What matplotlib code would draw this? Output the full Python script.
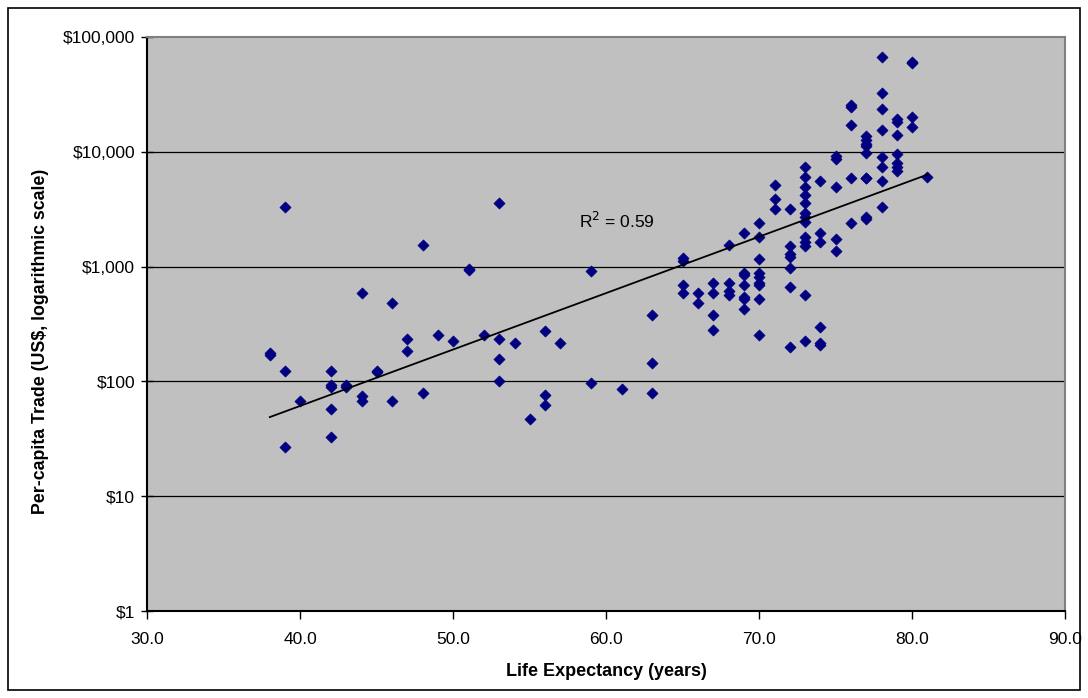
import matplotlib
matplotlib.use('Agg')
import matplotlib.pyplot as plt
from matplotlib.patches import Rectangle
import numpy as np

plt.rcParams['font.family'] = ['Liberation Sans', 'DejaVu Sans']

# life expectancy (years) and per-capita trade (US$), one entry per country
life_exp = (
    [38] * 2 + [39] * 3 + [40] + [42] * 5 + [43] * 2 + [44] * 3 + [45] * 2
    + [46] * 2 + [47] * 2 + [48] * 2 + [49] + [50] + [51] * 2 + [52]
    + [53] * 4 + [54] + [55] + [56] * 3 + [57] + [59] * 2 + [61] + [63] * 3
    + [65] * 4 + [66] * 2 + [67] * 4 + [68] * 4 + [69] * 7 + [70] * 9
    + [71] * 3 + [72] * 7 + [73] * 13 + [74] * 6 + [75] * 5 + [76] * 5
    + [77] * 9 + [78] * 8 + [79] * 7 + [80] * 4 + [81]
)
trade = [
    178, 170,
    3330, 124, 27,
    68,
    124, 93, 89, 58, 33,
    93, 90,
    593, 75, 68,
    124, 120,
    484, 68,
    234, 184,
    1540, 80,
    254,
    226,
    950, 930,
    254,
    3600, 234, 157, 101,
    217,
    47,
    277, 76, 62,
    217,
    921, 97,
    86,
    381, 146, 80,
    1180, 1125, 695, 593,
    593, 484,
    724, 593, 381, 280,
    1552, 724, 618, 571,
    1974, 887, 850, 695, 547, 525, 430,
    2410, 1820, 1172, 887, 813, 724, 695, 525, 255,
    5170, 3908, 3193,
    3175, 1510, 1290, 1220, 966, 668, 200,
    7410, 6070, 4970, 4210, 3560, 2950, 2720, 2460, 1800, 1640, 1510, 566, 226,
    5600, 1970, 1640, 300, 215, 206,
    9190, 8610, 4970, 1750, 1375,
    25800, 24500, 17200, 5870, 2410,
    13700, 12700, 11700, 11200, 9820, 5870, 5870, 2720, 2580,
    67400, 32700, 23600, 15500, 9060, 7410, 5600, 3330,
    19200, 18300, 14000, 9570, 7940, 7410, 6760,
    60000, 59000, 20200, 16600,
    6070,
]
r2_label = 'R$^2$ = 0.59'

y_ticks = [1, 10, 100, 1000, 10000, 100000]
y_tick_labels = ['$1', '$10', '$100', '$1,000', '$10,000', '$100,000']
x_ticks = [30, 40, 50, 60, 70, 80, 90]


def main() -> None:
    x = np.array(life_exp, dtype=float)
    y = np.array(trade, dtype=float)

    fig = plt.figure(figsize=(10.88, 6.98), dpi=100)
    fig.patches.append(Rectangle((8 / 1088, 8 / 698), 1072 / 1088, 682 / 698,
                                 transform=fig.transFigure, fill=False,
                                 edgecolor='black', linewidth=1.2))
    ax = fig.add_axes([0.1355, 0.1246, 0.8435, 0.8224])
    ax.set_facecolor('#C0C0C0')

    ax.set_yscale('log')
    ax.set_ylim(1, 100000)
    ax.set_xlim(30, 90)

    for v in y_ticks[1:-1]:
        ax.axhline(v, color='black', linewidth=0.9, zorder=1)

    ax.scatter(x, y, marker='D', s=32, color='#000080', edgecolors='#000080',
               linewidths=0.5, zorder=3)

    # exponential trendline (straight on the log axis)
    b, a = np.polyfit(x, np.log(y), 1)
    xs = np.linspace(x.min(), x.max(), 200)
    ax.plot(xs, np.exp(a + b * xs), color='black', linewidth=1.3, zorder=4)
    ax.text(58.2, 2500, r2_label, fontsize=12.5, va='center', ha='left',
            zorder=5)

    ax.set_yticks(y_ticks)
    ax.set_yticklabels(y_tick_labels)
    ax.yaxis.set_minor_locator(matplotlib.ticker.NullLocator())
    ax.set_xticks(x_ticks)
    ax.set_xticklabels([f'{t:.1f}' for t in x_ticks])
    ax.tick_params(axis='both', labelsize=12.5, length=6, width=1,
                   color='black')
    ax.tick_params(axis='x', pad=9)
    ax.tick_params(axis='y', direction='inout', length=8, pad=5)

    for side in ('top', 'right'):
        ax.spines[side].set_color('#808080')
        ax.spines[side].set_linewidth(1.5)
    for side in ('left', 'bottom'):
        ax.spines[side].set_color('black')
        ax.spines[side].set_linewidth(1.5)

    ax.set_xlabel('Life Expectancy (years)', fontsize=13, fontweight='bold',
                  va='center')
    ax.xaxis.set_label_coords(0.5, -0.105)
    ax.set_ylabel('Per-capita Trade (US$, logarithmic scale)', fontsize=12.8,
                  fontweight='bold', va='center')
    ax.yaxis.set_label_coords(-0.117, 0.469)

    fig.savefig('out.png', dpi=100)


if __name__ == '__main__':
    main()
